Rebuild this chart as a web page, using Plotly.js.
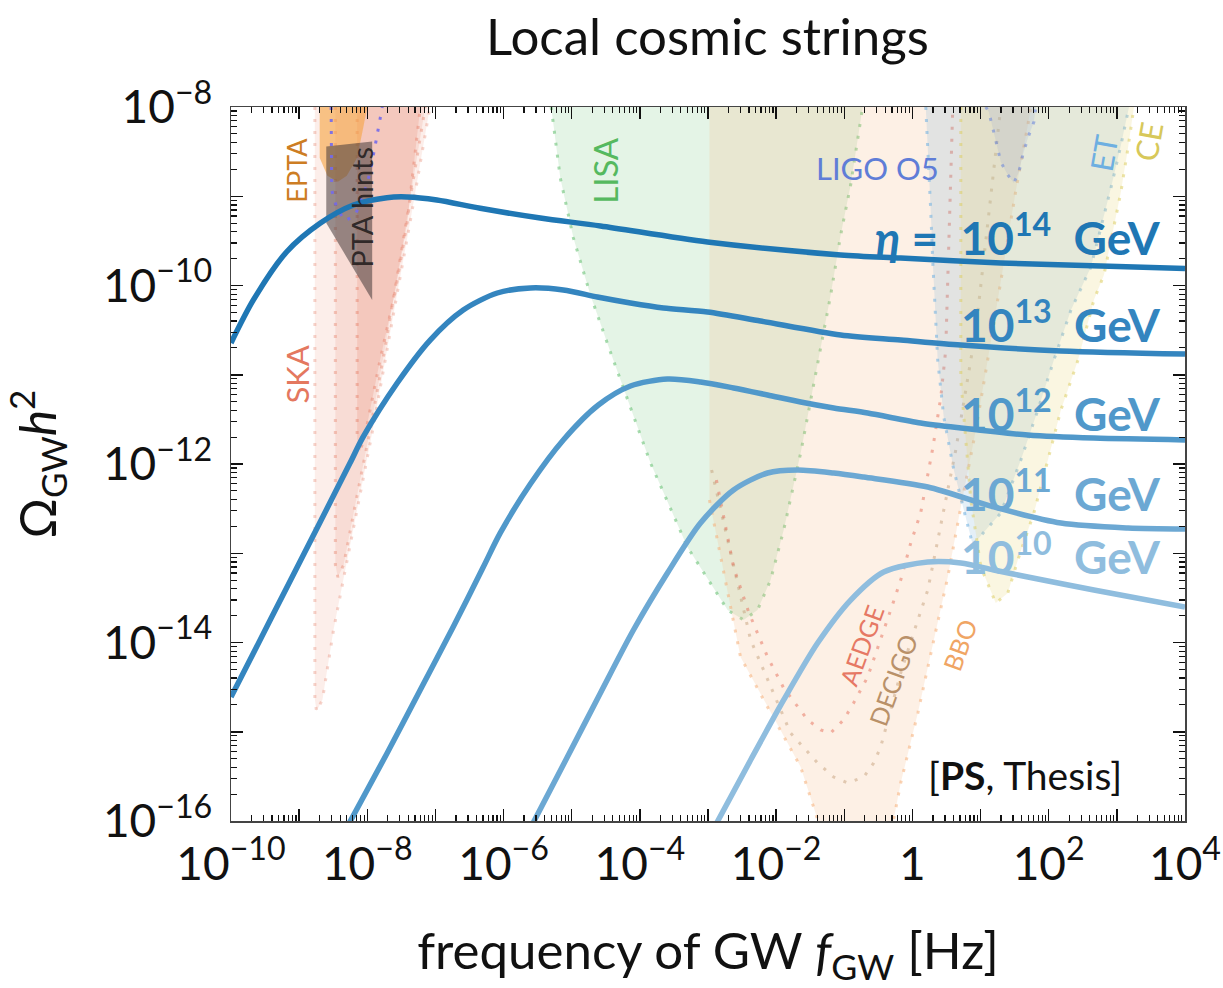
<!DOCTYPE html>
<html>
<head>
<meta charset="utf-8">
<script src="https://cdn.plot.ly/plotly-3.0.1.min.js"></script>
<style>
  html, body { margin: 0; padding: 0; background: #fff; }
  #chart { width: 1223px; height: 988px; }
</style>
</head>
<body>
<div id="chart"></div>
<script>
// ---- GW spectra of local cosmic strings, one per symmetry-breaking scale eta ----
const f14 = [1e-10, 2.13e-10, 6.58e-10, 2.03e-9, 6.27e-9, 1.94e-8, 3.81e-8, 1.05e-7, 4.55e-7, 3.46e-6, 2.64e-5, 9.84e-4, 8.85e-2, 0.673, 19.8, 583, 1e4];
const omega14 = [2.27e-11, 6.89e-11, 2.39e-10, 4.98e-10, 7.98e-10, 9.64e-10, 9.82e-10, 9.08e-10, 7.33e-10, 5.70e-10, 4.65e-10, 3.07e-10, 2.20e-10, 2.03e-10, 1.79e-10, 1.65e-10, 1.55e-10];

const f13 = [1e-10, 2.10e-10, 6.65e-10, 1.90e-9, 5.60e-9, 8.69e-9, 2.75e-8, 8.38e-8, 2.56e-7, 8.09e-7, 2.47e-6, 7.53e-6, 2.38e-5, 7.28e-5, 2.22e-4, 9.84e-4, 5.90e-3, 8.85e-2, 0.673, 5.13, 151, 1e4];
const omega13 = [2.45e-15, 7.43e-15, 4.19e-14, 2.02e-13, 1.03e-12, 2.01e-12, 8.09e-12, 2.45e-11, 5.31e-11, 8.24e-11, 9.38e-11, 8.91e-11, 7.43e-11, 6.37e-11, 5.60e-11, 5.05e-11, 4.00e-11, 2.79e-11, 2.45e-11, 2.15e-11, 1.85e-11, 1.71e-11];

const f12 = [3.99e-9, 1.96e-8, 5.98e-8, 1.82e-7, 5.04e-7, 8.95e-7, 2.47e-6, 7.53e-6, 2.46e-5, 7.28e-5, 2.54e-4, 7.76e-4, 2.37e-3, 7.48e-3, 2.29e-2, 6.98e-2, 0.220, 1.32, 5.13, 49.4, 460, 1e4];
const omega12 = [6.12e-17, 5.78e-16, 2.94e-15, 1.49e-14, 7.01e-14, 1.69e-13, 5.97e-13, 1.86e-12, 4.58e-12, 7.48e-12, 8.95e-12, 8.30e-12, 7.11e-12, 5.93e-12, 4.95e-12, 4.24e-12, 3.72e-12, 2.88e-12, 2.53e-12, 2.11e-12, 1.95e-12, 1.86e-12];

const f11 = [2.01e-6, 8.63e-6, 2.64e-5, 8.05e-5, 2.54e-4, 7.76e-4, 2.37e-3, 7.48e-3, 2.07e-2, 6.98e-2, 0.192, 1.68, 15.6, 151, 1.46e3, 1e4];
const omega11 = [6.12e-17, 5.21e-16, 2.72e-15, 1.38e-14, 6.01e-14, 2.18e-13, 5.12e-13, 7.93e-13, 8.57e-13, 7.93e-13, 7.14e-13, 5.52e-13, 3.30e-13, 2.18e-13, 1.92e-13, 1.87e-13];

const f10 = [9.84e-4, 4.22e-3, 1.29e-2, 4.06e-2, 0.124, 0.378, 1.68, 5.13, 15.6, 49.4, 460, 1e4];
const omega10 = [6.12e-17, 4.82e-16, 2.27e-15, 9.86e-15, 2.99e-14, 6.17e-14, 7.98e-14, 7.78e-14, 6.49e-14, 5.42e-14, 3.87e-14, 2.50e-14];

// ---- Sensitivity regions of GW experiments ----
const skaOuterF = [1.7e-9, 1.7e-9, 1.8e-9, 2.2e-9, 3.2e-9, 6.2e-9, 1.2e-8, 2.2e-8, 4.3e-8, 8.3e-8];
const skaOuterOmega = [1e-8, 2.3e-15, 1.7e-15, 2.3e-15, 1.4e-14, 1.8e-13, 2.4e-12, 3.2e-11, 5.4e-10, 1e-8];
const skaMidF = [3.4e-9, 3.4e-9, 3.7e-9, 4.5e-9, 6.9e-9, 1.1e-8, 1.8e-8, 3.2e-8, 7.1e-8];
const skaMidOmega = [1e-8, 7.4e-14, 5.4e-14, 7.4e-14, 4.0e-13, 2.4e-12, 1.9e-11, 2.5e-10, 1e-8];
const skaInnerF = [7.1e-9, 7.1e-9, 7.9e-9, 9.6e-9, 1.55e-8, 2.6e-8, 3.9e-8, 6.0e-8];
const skaInnerOmega = [1e-8, 1.9e-12, 1.4e-12, 2.4e-12, 1.5e-11, 8.9e-11, 5.4e-10, 1e-8];

const eptaF = [2.0e-9, 2.0e-9, 2.6e-9, 3.7e-9, 5.0e-9, 7.1e-9, 8.7e-9, 1.0e-8];
const eptaOmega = [1e-8, 2.7e-9, 1.7e-9, 1.45e-9, 1.7e-9, 2.7e-9, 5.8e-9, 1e-8];

const ptaHintF = [2.5e-9, 1.18e-8, 1.18e-8, 2.5e-9, 2.5e-9];
const ptaHintOmega = [3.6e-9, 4.1e-9, 6.9e-11, 5.0e-10, 3.6e-9];

const nanogravF = [2.95e-9, 3.0e-9, 3.5e-9, 4.6e-9, 6.6e-9, 1.0e-8, 1.26e-8, 1.66e-8];
const nanogravOmega = [1e-8, 1.17e-9, 7.8e-10, 5.3e-10, 6.0e-10, 1.37e-9, 3.2e-9, 1e-8];

const lisaF = [5.0e-6, 6.8e-6, 1.06e-5, 1.88e-5, 3.7e-5, 1.43e-4, 5.0e-4, 1.94e-3, 3.33e-3, 5.33e-3, 8.28e-3, 1.29e-2, 2.29e-2, 4.06e-2, 6.31e-2, 8.85e-2, 0.124, 0.186];
const lisaOmega = [1e-8, 1.60e-9, 3.40e-10, 7.83e-11, 1.80e-11, 1.03e-12, 1.17e-13, 2.31e-14, 1.79e-14, 2.31e-14, 5.01e-14, 1.82e-13, 1.33e-12, 1.36e-11, 7.83e-11, 3.68e-10, 1.34e-9, 1e-8];

const bboF = [1.05e-3, 1.05e-3, 3.0e-3, 7.48e-3, 2.29e-2, 6.31e-2, 0.406, 0.673, 1.20, 2.06, 3.30, 5.13, 8.51, 14.1, 19.8, 33.0, 49.4, 54.7];
const bboOmega = [1e-8, 3.95e-13, 6.89e-15, 1.89e-15, 4.03e-16, 3.66e-17, 3.66e-17, 2.67e-16, 1.62e-15, 1.07e-14, 5.42e-14, 3.30e-13, 2.40e-12, 2.33e-11, 1.09e-10, 1.17e-9, 6.28e-9, 1e-8];

const aedgeF = [1.33e-3, 2.37e-3, 3.94e-3, 7.48e-3, 1.29e-2, 2.07e-2, 2.90e-2, 4.50e-2, 6.31e-2, 9.79e-2, 0.137, 0.220, 0.342, 0.480, 0.673, 0.944, 1.32, 1.99, 2.61, 3.08, 3.91];
const aedgeOmega = [6.62e-13, 7.01e-14, 2.20e-14, 6.89e-15, 3.09e-15, 1.89e-15, 1.36e-15, 1.05e-15, 9.68e-16, 1.36e-15, 2.10e-15, 4.10e-15, 1.07e-14, 2.31e-14, 5.01e-14, 1.30e-13, 2.82e-13, 1.51e-12, 5.64e-12, 1.89e-11, 1e-8];

const decigoF = [1.13e-3, 4.22e-3, 1.63e-2, 4.06e-2, 6.98e-2, 0.112, 0.193, 0.270, 0.342, 0.673, 1.04, 1.68, 4.33, 8.51, 19.8];
const decigoOmega = [8.57e-13, 1.07e-14, 9.68e-16, 4.47e-16, 3.11e-16, 2.67e-16, 3.11e-16, 4.47e-16, 6.75e-16, 4.55e-15, 1.28e-14, 3.87e-14, 1.44e-12, 3.17e-11, 1e-8];

const etF = [1.57, 1.73, 1.86, 1.99, 2.35, 2.88, 4.05, 5.68, 7.69, 11.9, 19.8, 39.0, 69.3, 119, 212, 416, 583, 818, 1148, 1507];
const etOmega = [1e-8, 2.42e-9, 6.67e-10, 1.83e-10, 1.46e-11, 3.37e-12, 8.57e-13, 3.05e-13, 1.24e-13, 1.82e-13, 2.82e-13, 1.11e-12, 4.03e-12, 1.46e-11, 5.31e-11, 1.61e-10, 4.41e-10, 1.24e-9, 3.75e-9, 1e-8];

const ceF = [5.13, 5.13, 7.19, 10.1, 16.7, 25.1, 35.2, 60.5, 97.2, 151, 269, 460, 646, 906, 1148, 1456, 1782];
const ceOmega = [1e-8, 8.73e-12, 3.95e-13, 7.01e-14, 2.77e-14, 3.59e-14, 8.39e-14, 2.82e-13, 1.11e-12, 4.03e-12, 1.46e-11, 6.89e-11, 1.31e-10, 4.41e-10, 1.12e-9, 3.48e-9, 1e-8];

const ligoF = [11.9, 13.2, 15.1, 17.9, 19.8, 25.1, 30.8, 36.5, 41.7, 49.4, 60.5, 64.7];
const ligoOmega = [1e-8, 8.79e-9, 5.82e-9, 3.48e-9, 2.42e-9, 1.73e-9, 1.41e-9, 1.87e-9, 2.90e-9, 4.50e-9, 6.79e-9, 1e-8];

// ---- Axis ticks ----
const xTickExp = [-10, -9, -8, -7, -6, -5, -4, -3, -2, -1, 0, 1, 2, 3, 4];
const xTickText = ['10<sup>\u221210</sup>', '', '10<sup>\u22128</sup>', '', '10<sup>\u22126</sup>', '', '10<sup>\u22124</sup>', '', '10<sup>\u22122</sup>', '', '1', '', '10<sup>2</sup>', '', '10<sup>4</sup>'];
const yTickExp = [-16, -15, -14, -13, -12, -11, -10, -9, -8];
const yTickText = ['10<sup>\u221216</sup>', '', '10<sup>\u221214</sup>', '', '10<sup>\u221212</sup>', '', '10<sup>\u221210</sup>', '', '10<sup>\u22128</sup>'];

const eta = ['14', '13', '12', '11', '10'];
const etaColors = ['rgb(31,119,180)', 'rgb(52,133,191)', 'rgb(80,152,202)', 'rgb(108,168,211)', 'rgb(143,189,222)'];

function decadeValues(exps) { return exps.map(e => Number('1e' + e)); }
function minorValues(exps) {
  const out = [];
  for (let i = 0; i < exps.length - 1; i++) {
    for (let m = 2; m <= 9; m++) out.push(m * Number('1e' + exps[i]));
  }
  return out;
}

const FONT = 'Lato, "Open Sans", "DejaVu Sans", sans-serif';
const DOTS = '3px,9px';

function region(x, y, fillcolor, linecolor) {
  return {
    x: x, y: y, type: 'scatter', mode: 'lines', fill: 'toself',
    fillcolor: fillcolor,
    line: { color: linecolor || 'rgba(0,0,0,0)', width: linecolor ? 3 : 0, dash: DOTS },
    hoverinfo: 'skip', showlegend: false
  };
}
function outline(x, y, color) {
  return {
    x: x, y: y, type: 'scatter', mode: 'lines',
    line: { color: color, width: 3, dash: DOTS },
    hoverinfo: 'skip', showlegend: false
  };
}

const traces = [
  region(skaOuterF, skaOuterOmega, 'rgba(228,120,95,0.13)', 'rgba(228,120,95,0.32)'),
  region(skaMidF, skaMidOmega, 'rgba(228,120,95,0.15)', 'rgba(228,120,95,0.38)'),
  region(skaInnerF, skaInnerOmega, 'rgba(228,120,95,0.20)', 'rgba(228,120,95,0.42)'),
  region(eptaF, eptaOmega, 'rgba(245,165,70,0.62)'),
  region(ptaHintF, ptaHintOmega, 'rgba(70,58,58,0.55)'),
  outline(nanogravF, nanogravOmega, 'rgba(115,105,235,0.9)'),
  region(lisaF, lisaOmega, 'rgba(120,200,130,0.20)', 'rgba(120,200,130,0.65)'),
  region(bboF, bboOmega, 'rgba(245,185,135,0.22)'),
  outline(bboF.slice(1), bboOmega.slice(1), 'rgba(245,175,120,0.55)'),
  outline(decigoF, decigoOmega, 'rgba(190,150,110,0.45)'),
  outline(aedgeF, aedgeOmega, 'rgba(230,110,90,0.5)'),
  region(etF, etOmega, 'rgba(120,175,215,0.20)', 'rgba(120,180,225,0.6)'),
  region(ceF, ceOmega, 'rgba(230,215,120,0.22)', 'rgba(220,205,100,0.55)'),
  region(ligoF, ligoOmega, 'rgba(120,145,215,0.14)', 'rgba(100,130,220,0.55)')
];

const spectraF = [f14, f13, f12, f11, f10];
const spectraOmega = [omega14, omega13, omega12, omega11, omega10];
spectraF.forEach((fx, i) => {
  traces.push({
    x: fx, y: spectraOmega[i], type: 'scatter', mode: 'lines',
    line: { color: etaColors[i], width: 5.5, shape: 'spline', smoothing: 0.8 },
    name: '\u03b7 = 10^' + eta[i] + ' GeV', showlegend: false, hoverinfo: 'skip'
  });
});

// annotation helper in paper coordinates
function label(text, x, y, color, size, angle, opts) {
  return Object.assign({
    text: text, x: x, y: y, xref: 'paper', yref: 'paper',
    showarrow: false, textangle: angle || 0,
    font: { family: FONT, size: size, color: color },
    xanchor: 'center', yanchor: 'middle'
  }, opts || {});
}

const etaLabelY = [0.821, 0.699, 0.575, 0.463, 0.375];
const annotations = [
  label('EPTA', 0.069, 0.912, 'rgb(205,125,35)', 27, -90),
  label('PTA hints', 0.137, 0.860, 'rgba(35,30,30,0.9)', 29, -90),
  label('SKA', 0.069, 0.625, 'rgb(228,120,95)', 31, -90),
  label('LISA', 0.392, 0.912, 'rgb(85,185,95)', 33, -90),
  label('LIGO O5', 0.678, 0.915, 'rgb(95,125,215)', 31, 0),
  label('ET', 0.915, 0.935, 'rgb(110,175,225)', 31, -80),
  label('CE', 0.962, 0.952, 'rgb(215,200,90)', 31, -80),
  label('AEDGE', 0.661, 0.246, 'rgb(230,120,100)', 25, -70),
  label('DECIGO', 0.694, 0.197, 'rgb(185,145,105)', 25, -70),
  label('BBO', 0.764, 0.246, 'rgb(240,165,100)', 25, -70),
  label('[<b>PS</b>, Thesis]', 0.832, 0.064, '#111', 39, 0)
];
eta.forEach((e, i) => {
  const txt = (i === 0 ? '<i>\u03b7</i> =  ' : '') + '10<sup>' + e + '</sup>  GeV';
  annotations.push(label('<b>' + txt + '</b>', 0.977, etaLabelY[i], etaColors[i], 46, 0, { xanchor: 'right' }));
});

const axisCommon = {
  type: 'log', showgrid: false, zeroline: false,
  showline: true, linecolor: '#444', linewidth: 1.5, mirror: 'ticks',
  ticks: 'inside', ticklen: 12, tickwidth: 1.5, tickcolor: '#111',
  tickmode: 'array'
};

const layout = {
  width: 1223, height: 988,
  paper_bgcolor: '#fff', plot_bgcolor: '#fff',
  margin: { l: 231, r: 38, t: 107, b: 167 },
  title: {
    text: 'Local cosmic strings',
    font: { family: FONT, size: 51, color: '#111' },
    x: 0.5785, xref: 'container', xanchor: 'center',
    y: 0.962, yref: 'container', yanchor: 'middle'
  },
  xaxis: Object.assign({}, axisCommon, {
    range: [-10, 4],
    tickvals: decadeValues(xTickExp), ticktext: xTickText,
    tickfont: { family: FONT, size: 46, color: '#111' },
    ticklabelstandoff: 2,
    minor: { tickmode: 'array', tickvals: minorValues(xTickExp), ticks: 'inside', ticklen: 6, tickwidth: 1.2, tickcolor: '#111' },
    title: { text: 'frequency of GW <i>f</i><sub>GW</sub> [Hz]', font: { family: FONT, size: 51, color: '#111' }, standoff: 58 }
  }),
  yaxis: Object.assign({}, axisCommon, {
    range: [-16, -8],
    tickvals: decadeValues(yTickExp), ticktext: yTickText,
    tickfont: { family: FONT, size: 46, color: '#111' },
    ticklabelstandoff: 8,
    minor: { tickmode: 'array', tickvals: minorValues(yTickExp), ticks: 'inside', ticklen: 6, tickwidth: 1.2, tickcolor: '#111' },
    title: { text: '\u03a9<sub>GW</sub><i>h</i><sup>2</sup>', font: { family: FONT, size: 50, color: '#111' }, standoff: 30 }
  }),
  annotations: annotations
};

Plotly.newPlot('chart', traces, layout, { displayModeBar: false, staticPlot: true });
</script>
</body>
</html>
